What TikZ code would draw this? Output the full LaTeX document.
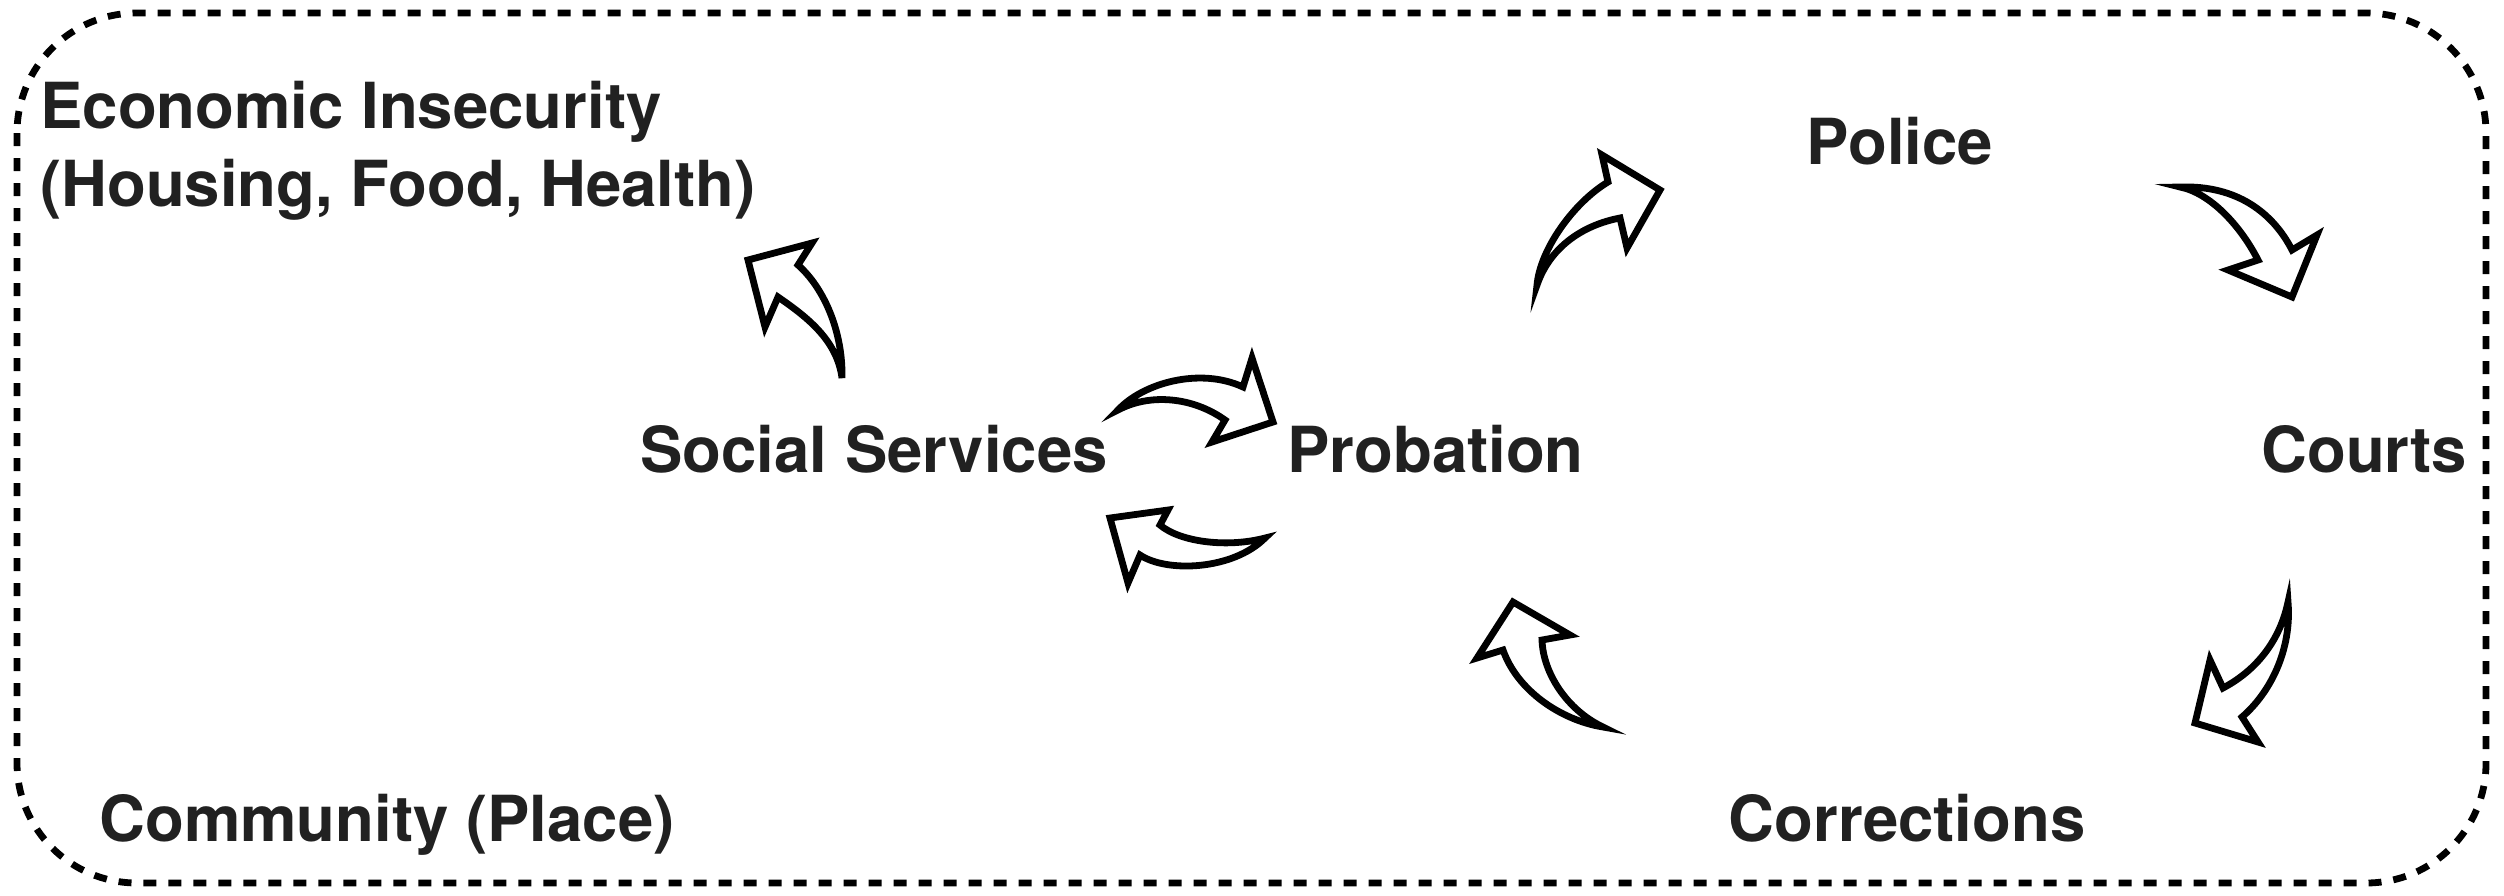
\documentclass[tikz,border=0pt]{standalone}
\usepackage{fontspec}
\setmainfont{TeX Gyre Heros}
\begin{document}
\begin{tikzpicture}[x=0.5pt,y=-0.5pt,
  lbl/.style={inner sep=0pt, text=black!87, font=\fontsize{31.75}{39}\selectfont\bfseries},
  bent/.style={draw=black, fill=white, line width=3.4pt, line join=miter, miter limit=10},
  frame/.style={draw=black, line width=3.4pt, dash pattern=on 6.5pt off 6pt, rounded corners=60pt}]
\useasboundingbox (0,0) rectangle (2504,895);

% dashed outer frame
\draw[frame] (17,13) rectangle (2486,883);

% labels
\node[lbl, anchor=base west, align=left] (econ) at (40,206) {Economic Insecurity\\(Housing, Food, Health)};
\node[lbl, anchor=base] (police) at (1900,164) {Police};
\node[lbl, anchor=base west] (social) at (640,472) {Social Services};
\node[lbl, anchor=base west] (prob) at (1287,472) {Probation};
\node[lbl, anchor=base west] (courts) at (2261,472) {Courts};
\node[lbl, anchor=base] (corr) at (1907,841) {Corrections};
\node[lbl, anchor=base west] (comm) at (99,841) {Community (Place)};

% curved block arrows
% probation -> police
\draw[bent] (1537,285) .. controls (1540,250) and (1573,203) .. (1608,182)
  -- (1602,155) -- (1660,190) -- (1627,248) -- (1620,218)
  .. controls (1583,225) and (1550,247) .. cycle;
% police -> courts
\draw[bent] (2180,187) .. controls (2237,185) and (2273,213) .. (2292,250)
  -- (2317,235) -- (2292,297) -- (2228,270) -- (2258,260)
  .. controls (2240,225) and (2210,193) .. cycle;
% courts -> corrections
\draw[bent] (2288,602) .. controls (2292,650) and (2270,693) .. (2242,717)
  -- (2258,742) -- (2195,723) -- (2210,660) -- (2223,688)
  .. controls (2257,670) and (2280,640) .. cycle;
% corrections -> probation
\draw[bent] (1603,727) .. controls (1567,710) and (1543,673) .. (1542,640)
  -- (1570,635) -- (1513,602) -- (1477,658) -- (1503,650)
  .. controls (1517,690) and (1560,720) .. cycle;
% social services -> probation
\draw[bent] (1118,410) .. controls (1143,383) and (1200,367) .. (1243,387)
  -- (1252,358) -- (1273,422) -- (1212,442) -- (1225,420)
  .. controls (1193,397) and (1150,393) .. cycle;
% probation -> social services
\draw[bent] (1265,538) .. controls (1227,548) and (1180,542) .. (1160,525)
  -- (1168,510) -- (1110,518) -- (1128,583) -- (1140,555)
  .. controls (1167,573) and (1233,570) .. cycle;
% social services -> economic insecurity
\draw[bent] (842,378) .. controls (843,330) and (823,287) .. (798,265)
  -- (812,243) -- (748,260) -- (765,327) -- (778,297)
  .. controls (807,317) and (837,340) .. cycle;
\end{tikzpicture}
\end{document}
